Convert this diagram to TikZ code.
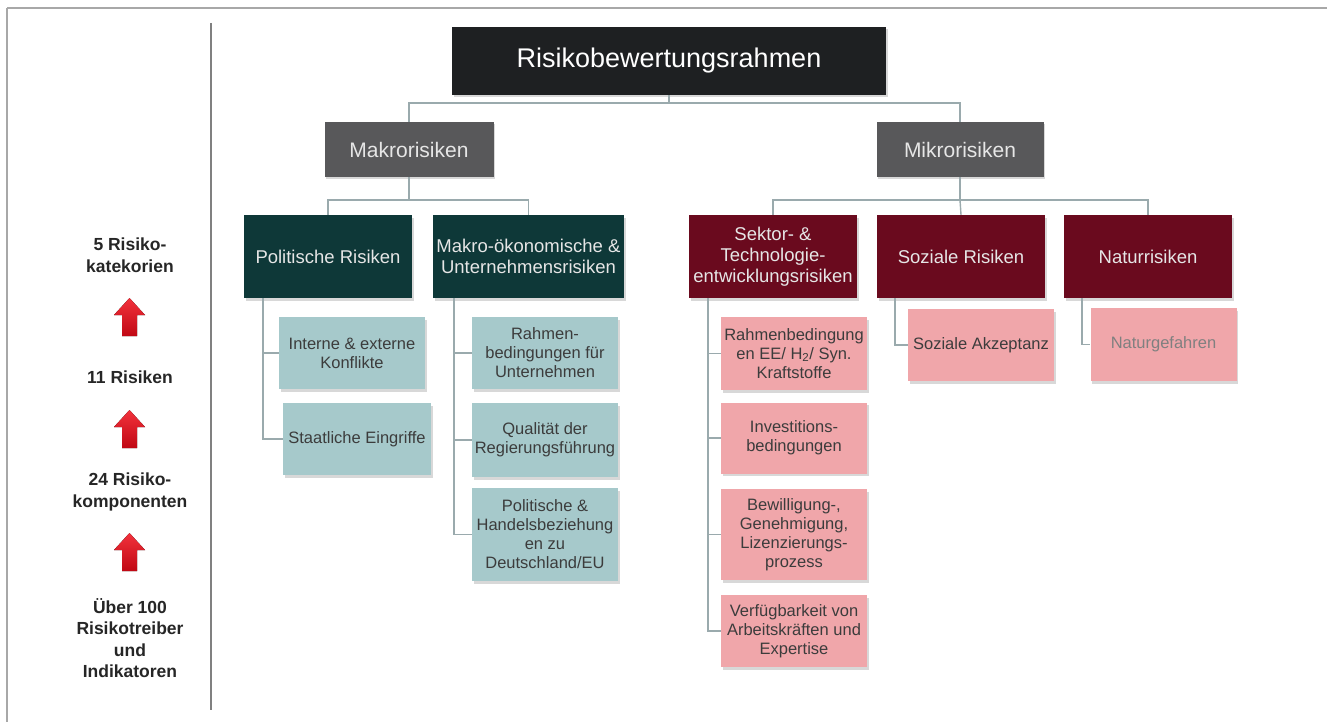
\documentclass[tikz,border=0pt]{standalone}
\usepackage{fontspec}
\setmainfont{Liberation Sans}
\usetikzlibrary{shadows}
\definecolor{titlebg}{HTML}{1E2022}
\definecolor{levelbg}{HTML}{58585A}
\definecolor{tealbg}{HTML}{0E3838}
\definecolor{maroonbg}{HTML}{6A0A1E}
\definecolor{lightteal}{HTML}{A6C9CB}
\definecolor{lightpink}{HTML}{F0A6AA}
\definecolor{connc}{HTML}{9AAAAD}
\definecolor{darktxt}{HTML}{3C3C3C}
\definecolor{lighttxt}{HTML}{E6E6E6}
\definecolor{framec}{HTML}{A8A8A8}
\definecolor{arrowtop}{HTML}{F2323C}
\definecolor{arrowbot}{HTML}{C00814}
\begin{document}
\begin{tikzpicture}[x=1pt,y=-1pt,
  bx/.style={draw=none, inner sep=0pt, align=center,
    drop shadow={opacity=0.3,shadow xshift=1.5pt,shadow yshift=-2.5pt}},
  titlebox/.style={bx, fill=titlebg, text=white, font=\fontsize{27}{32}\selectfont},
  lvlbox/.style={bx, fill=levelbg, text=lighttxt, font=\fontsize{21}{25}\selectfont},
  tealbox/.style={bx, fill=tealbg, text=lighttxt, font=\fontsize{18.5}{21}\selectfont},
  maroonbox/.style={bx, fill=maroonbg, text=lighttxt, font=\fontsize{18.5}{21}\selectfont},
  tleaf/.style={bx, fill=lightteal, text=darktxt, font=\fontsize{16.5}{19}\selectfont},
  pleaf/.style={bx, fill=lightpink, text=darktxt, font=\fontsize{16.5}{19}\selectfont},
  conn/.style={draw=connc, line width=1.4pt},
  sidetxt/.style={align=center, text=black!85, font=\bfseries\fontsize{17.5}{21.5}\selectfont},
  redarrow/.style={top color=arrowtop, bottom color=arrowbot, draw=none}
]
\useasboundingbox (0,0) rectangle (1327,722);
\fill[white] (0,0) rectangle (1327,722);
% frame
\draw[framec, line width=2pt] (7,8.5) -- (1327,8.5);
\draw[framec, line width=1.6pt] (7,8.5) -- (7,722);
\draw[black!50, line width=2pt] (211,23) -- (211,710);

% left column
\node[sidetxt] (t1) at (130,255) {5 Risiko-\\katekorien};
\node[sidetxt] (t2) at (130,377) {11 Risiken};
\node[sidetxt] (t3) at (130,492) {24 Risiko-\\komponenten};
\node[sidetxt] (t4) at (130,638) {Über 100\\Risikotreiber\\und\\Indikatoren};
\foreach \ty in {298,410,533}{
  \fill[redarrow] (129.5,\ty) -- (145,\ty+17) -- (137,\ty+17) -- (137,\ty+38) -- (122,\ty+38) -- (122,\ty+17) -- (114,\ty+17) -- cycle;
}

% top levels
\node[titlebox, minimum width=434pt, minimum height=68pt] (title) at (669,61) {Risikobewertungsrahmen};
\node[lvlbox, minimum width=169pt, minimum height=55pt] (makro) at (409,149.5) {Makrorisiken};
\node[lvlbox, minimum width=167pt, minimum height=55pt] (mikro) at (960,149.5) {Mikrorisiken};

% categories
\node[tealbox, minimum width=168pt, minimum height=83pt] (pol) at (328,256.5) {Politische Risiken};
\node[tealbox, minimum width=191pt, minimum height=83pt] (mak) at (528.5,256.5) {Makro-ökonomische \&\\Unternehmensrisiken};
\node[maroonbox, minimum width=168pt, minimum height=83pt] (sek) at (773,256.5) {Sektor- \&\\Technologie-\\entwicklungsrisiken};
\node[maroonbox, minimum width=168pt, minimum height=83pt] (soz) at (961,256.5) {Soziale Risiken};
\node[maroonbox, minimum width=168pt, minimum height=83pt] (nat) at (1148,256.5) {Naturrisiken};

% leaves: politische
\node[tleaf, minimum width=146pt, minimum height=72pt] (int) at (352,353) {Interne \& externe\\Konflikte};
\node[tleaf, minimum width=148pt, minimum height=72pt] (stg) at (357,439) {Staatliche Eingriffe};
% leaves: makro-oekonomisch
\node[tleaf, minimum width=146pt, minimum height=72pt] (rfu) at (545,353) {Rahmen-\\bedingungen für\\Unternehmen};
\node[tleaf, minimum width=146pt, minimum height=74pt] (qdr) at (545,440) {Qualität der\\Regierungsführung};
\node[tleaf, minimum width=146pt, minimum height=93pt] (phb) at (545,534.5) {Politische \&\\Handelsbeziehung\\en zu\\Deutschland/EU};
% leaves: sektor
\node[pleaf, minimum width=146pt, minimum height=73pt] (ree) at (794,353.5) {Rahmenbedingung\\en EE/ H\textsubscript{2}/ Syn.\\Kraftstoffe};
\node[pleaf, minimum width=146pt, minimum height=71pt] (inv) at (794,438) {Investitions-\\bedingungen};
\node[pleaf, minimum width=146pt, minimum height=91pt] (bew) at (794,534.5) {Bewilligung-,\\Genehmigung,\\Lizenzierungs-\\prozess};
\node[pleaf, minimum width=146pt, minimum height=72pt] (vfg) at (794,631) {Verfügbarkeit von\\Arbeitskräften und\\Expertise};
% leaves: soziale, natur
\node[pleaf, minimum width=146pt, minimum height=72pt] (akz) at (981,345) {Soziale Akzeptanz};
\node[pleaf, minimum width=146pt, minimum height=73pt, text=black!50] (ngf) at (1163.5,344.5) {Naturgefahren};

% connectors top
\coordinate (j1) at (669,103);
\coordinate (j2) at (409,200);
\coordinate (j3) at (960,200);
\draw[conn] (title.south) -- (j1);
\draw[conn] (makro.north) |- (j1) -| (mikro.north);
\draw[conn] (makro.south) -- (j2);
\draw[conn] (pol.north) |- (j2) -| (mak.north);
\draw[conn] (mikro.south) -- (j3);
\draw[conn] (sek.north) |- (j3) -| (nat.north);
\draw[conn] (j3) -- (soz.north);

% connectors leaves
\draw[conn] ([xshift=19pt]pol.south west) |- (stg.west);
\draw[conn] ([xshift=19pt]pol.south west) |- (int.west);
\draw[conn] ([xshift=21pt]mak.south west) |- (phb.west);
\draw[conn] ([xshift=21pt]mak.south west) |- (qdr.west);
\draw[conn] ([xshift=21pt]mak.south west) |- (rfu.west);
\draw[conn] ([xshift=19pt]sek.south west) |- (vfg.west);
\draw[conn] ([xshift=19pt]sek.south west) |- (bew.west);
\draw[conn] ([xshift=19pt]sek.south west) |- (inv.west);
\draw[conn] ([xshift=19pt]sek.south west) |- (ree.west);
\draw[conn] ([xshift=18pt]soz.south west) |- (akz.west);
\draw[conn] ([xshift=18pt]nat.south west) |- (ngf.west);
\end{tikzpicture}
\end{document}
